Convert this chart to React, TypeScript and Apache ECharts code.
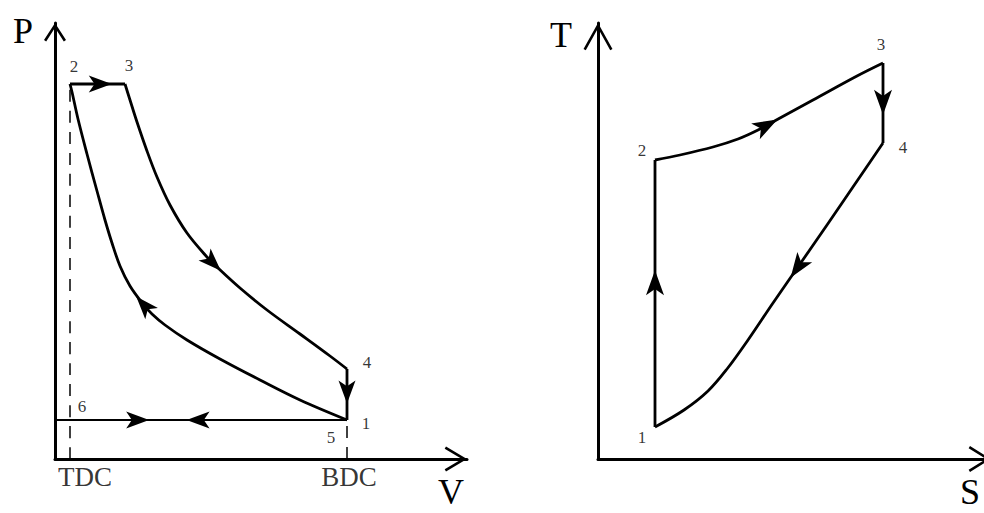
import { useEffect, useRef } from "react";
import * as echarts from "echarts";

// ---- P–V diagram (schematic units, origin at the axes' corner) ----
const pvAxisMax = { v: 412, p: 436 };
const pvCompression = [
  [292, 39], [245, 59], [205, 79], [165, 100], [132, 119], [110, 134], [97, 145],
  [88, 155], [75, 173], [65, 193], [57, 216], [50, 239], [42, 268], [32, 305],
  [23, 340], [17, 367], [15, 375],
];
const pvCombustion = [[15, 375], [70, 375]];
const pvExpansion = [
  [70, 375], [75, 359], [82, 337], [92, 308], [102, 282], [115, 254], [132, 226],
  [152, 202], [162, 192], [185, 171], [212, 149], [245, 125], [275, 103], [292, 90],
];
const pvBlowdown = [[292, 90], [292, 39]];
const pvIntake = [[0, 39], [292, 39]];
const pvExhaust = [[292, 39], [0, 39]];
const pvTdcLine = [[15, 0], [15, 375]];
const pvBdcLine = [[292, 0], [292, 39]];
const pvStateNames = ["1", "2", "3", "4", "5", "6"];
const pvStatePoints = [[292, 39], [15, 375], [70, 375], [292, 90], [292, 39], [15, 39]];
const pvStrokeNames = ["TDC", "BDC"];
const pvStrokePoints = [[15, 0], [292, 0]];

// ---- T–S diagram ----
const tsAxisMax = { s: 393, t: 436 };
const ts12 = [[57, 32], [57, 299]];
const ts23 = [
  [57, 299], [82, 304], [115, 312], [140, 320], [160, 329], [182, 341],
  [215, 359], [259, 383], [285, 396],
];
const ts34 = [[285, 396], [285, 316]];
const ts41 = [
  [285, 316], [257, 275], [229, 234], [202, 195], [175, 156], [150, 119],
  [129, 90], [110, 68], [86, 49], [57, 32],
];
const tsStateNames = ["1", "2", "3", "4"];
const tsStatePoints = [[57, 32], [57, 299], [285, 396], [285, 316]];

// where the direction arrows sit, as a fraction of each path's length
const pvArrowStops = [
  { path: pvCombustion, at: 0.55 },
  { path: pvExpansion, at: 0.54 },
  { path: pvBlowdown, at: 0.45 },
  { path: pvCompression, at: 0.5 },
  { path: pvIntake, at: 0.283 },
  { path: pvExhaust, at: 0.51 },
];
const tsArrowStops = [
  { path: ts12, at: 0.54 },
  { path: ts23, at: 0.47 },
  { path: ts34, at: 0.49 },
  { path: ts41, at: 0.41 },
];

// label placement (pixels, relative to the point)
const pvStateOffsets = [[19, 3], [4, -18], [4, -19], [20, -7], [-16, 17], [12, -14]];
const pvStrokeOffsets = [[15, 18], [2, 18]];
const tsStateOffsets = [[-13, 10], [-13, -10], [-2, -19], [20, 4]];

const SERIF = '"Liberation Serif", "Times New Roman", serif';
const INK = "#000";
const ARROW = "path://M9,0L18,24L9,18L0,24Z";

// open chevron arrow head for an axis end (points up before rotation)
function chevron(w: number, h: number, t: number) {
  const L = Math.hypot(w / 2, h);
  const dx = (t * h) / L;
  const dy = (t * (w / 2)) / L;
  const tipIn = (t * L) / (w / 2);
  const H = h + dy;
  const f = (n: number) => n.toFixed(2);
  const d =
    `M${f(w / 2)},0L${f(w)},${f(h)}L${f(w - dx)},${f(H)}L${f(w / 2)},${f(tipIn)}` +
    `L${f(dx)},${f(H)}L0,${f(h)}Z`;
  return { path: "path://" + d, size: [w, H], offset: -H / 2 };
}

function arrowOn(points: number[][], at: number) {
  const seg: number[] = [];
  let total = 0;
  for (let i = 1; i < points.length; i++) {
    const d = Math.hypot(points[i][0] - points[i - 1][0], points[i][1] - points[i - 1][1]);
    seg.push(d);
    total += d;
  }
  let target = total * at;
  for (let i = 0; i < seg.length; i++) {
    if (target <= seg[i] || i === seg.length - 1) {
      const [x0, y0] = points[i];
      const [x1, y1] = points[i + 1];
      const f = seg[i] ? Math.min(1, target / seg[i]) : 0;
      const angle = (Math.atan2(y1 - y0, x1 - x0) * 180) / Math.PI;
      return { value: [x0 + (x1 - x0) * f, y0 + (y1 - y0) * f], symbolRotate: angle - 90 };
    }
    target -= seg[i];
  }
  return { value: points[0], symbolRotate: 0 };
}

function valueAxis(gridIndex: number, max: number, head: ReturnType<typeof chevron>) {
  return {
    type: "value",
    gridIndex,
    min: 0,
    max,
    axisLine: {
      show: true,
      onZero: false,
      symbol: ["none", head.path],
      symbolSize: head.size,
      symbolOffset: [0, head.offset],
      lineStyle: { color: INK, width: 3 },
    },
    axisTick: { show: false },
    axisLabel: { show: false },
    splitLine: { show: false },
  };
}

function pathSeries(axis: number, data: number[][], width: number, extra: any = {}) {
  return {
    type: "line",
    xAxisIndex: axis,
    yAxisIndex: axis,
    data,
    symbol: "none",
    smooth: 0.35,
    silent: true,
    z: 3,
    lineStyle: { color: INK, width, join: "round" },
    ...extra,
  };
}

function arrowSeries(axis: number, stops: { path: number[][]; at: number }[], size: number[]) {
  return {
    type: "scatter",
    xAxisIndex: axis,
    yAxisIndex: axis,
    symbol: ARROW,
    symbolSize: size,
    silent: true,
    z: 5,
    itemStyle: { color: INK, opacity: 1 },
    data: stops.map((s) => arrowOn(s.path, s.at)),
  };
}

function labelSeries(
  axis: number,
  names: string[],
  points: number[][],
  offsets: number[][],
  fontSize: number
) {
  return {
    type: "scatter",
    xAxisIndex: axis,
    yAxisIndex: axis,
    symbolSize: 1,
    silent: true,
    z: 6,
    itemStyle: { color: "transparent" },
    label: {
      show: true,
      position: "inside",
      formatter: "{b}",
      color: INK,
      fontFamily: SERIF,
      fontSize,
      align: "center",
      verticalAlign: "middle",
    },
    data: names.map((name, i) => ({
      name,
      value: points[i],
      label: { offset: offsets[i] },
    })),
  };
}

export default function App() {
  const ref = useRef<HTMLDivElement>(null);

  useEffect(() => {
    if (!ref.current) return;
    const chart = echarts.init(ref.current, null, { renderer: "svg" });

    const title = (text: string, x: number, y: number) => ({
      type: "text",
      x,
      y,
      silent: true,
      style: {
        text,
        fill: INK,
        fontFamily: SERIF,
        fontSize: 36,
        align: "center",
        verticalAlign: "middle",
      },
    });

    chart.setOption({
      animation: false,
      backgroundColor: "#fff",
      grid: [
        { left: 55, top: 23, width: 412, height: 436, outerBoundsMode: "none", containLabel: false },
        { left: 598, top: 23, width: 393, height: 436, outerBoundsMode: "none", containLabel: false },
      ],
      xAxis: [
        valueAxis(0, pvAxisMax.v, chevron(25, 21, 2.6)),
        valueAxis(1, tsAxisMax.s, chevron(26, 21, 2.6)),
      ],
      yAxis: [
        valueAxis(0, pvAxisMax.p, chevron(22, 17, 2.6)),
        valueAxis(1, tsAxisMax.t, chevron(29, 26, 2.6)),
      ],
      graphic: [title("P", 23, 31), title("V", 451, 492), title("T", 561, 35), title("S", 970, 492)],
      series: [
        pathSeries(0, pvTdcLine, 1.5, { lineStyle: { color: INK, width: 1.5, type: [12, 9] }, z: 2 }),
        pathSeries(0, pvBdcLine, 1.5, { lineStyle: { color: INK, width: 1.5, type: [12, 9] }, z: 2 }),
        pathSeries(0, pvIntake, 2),
        pathSeries(0, pvExhaust, 2),
        pathSeries(0, pvCompression, 2.8),
        pathSeries(0, pvCombustion, 2.8),
        pathSeries(0, pvExpansion, 2.8),
        pathSeries(0, pvBlowdown, 2.8),
        arrowSeries(0, pvArrowStops, [17, 23]),
        labelSeries(0, pvStateNames, pvStatePoints, pvStateOffsets, 17),
        labelSeries(0, pvStrokeNames, pvStrokePoints, pvStrokeOffsets, 27),

        pathSeries(1, ts12, 2.8),
        pathSeries(1, ts23, 2.8),
        pathSeries(1, ts34, 2.8),
        pathSeries(1, ts41, 2.8),
        arrowSeries(1, tsArrowStops, [18, 25]),
        labelSeries(1, tsStateNames, tsStatePoints, tsStateOffsets, 17),
      ],
    });

    return () => chart.dispose();
  }, []);

  return (
    <div
      ref={ref}
      style={{ position: "fixed", left: 0, top: 0, width: 984, height: 513, background: "#fff" }}
    />
  );
}
